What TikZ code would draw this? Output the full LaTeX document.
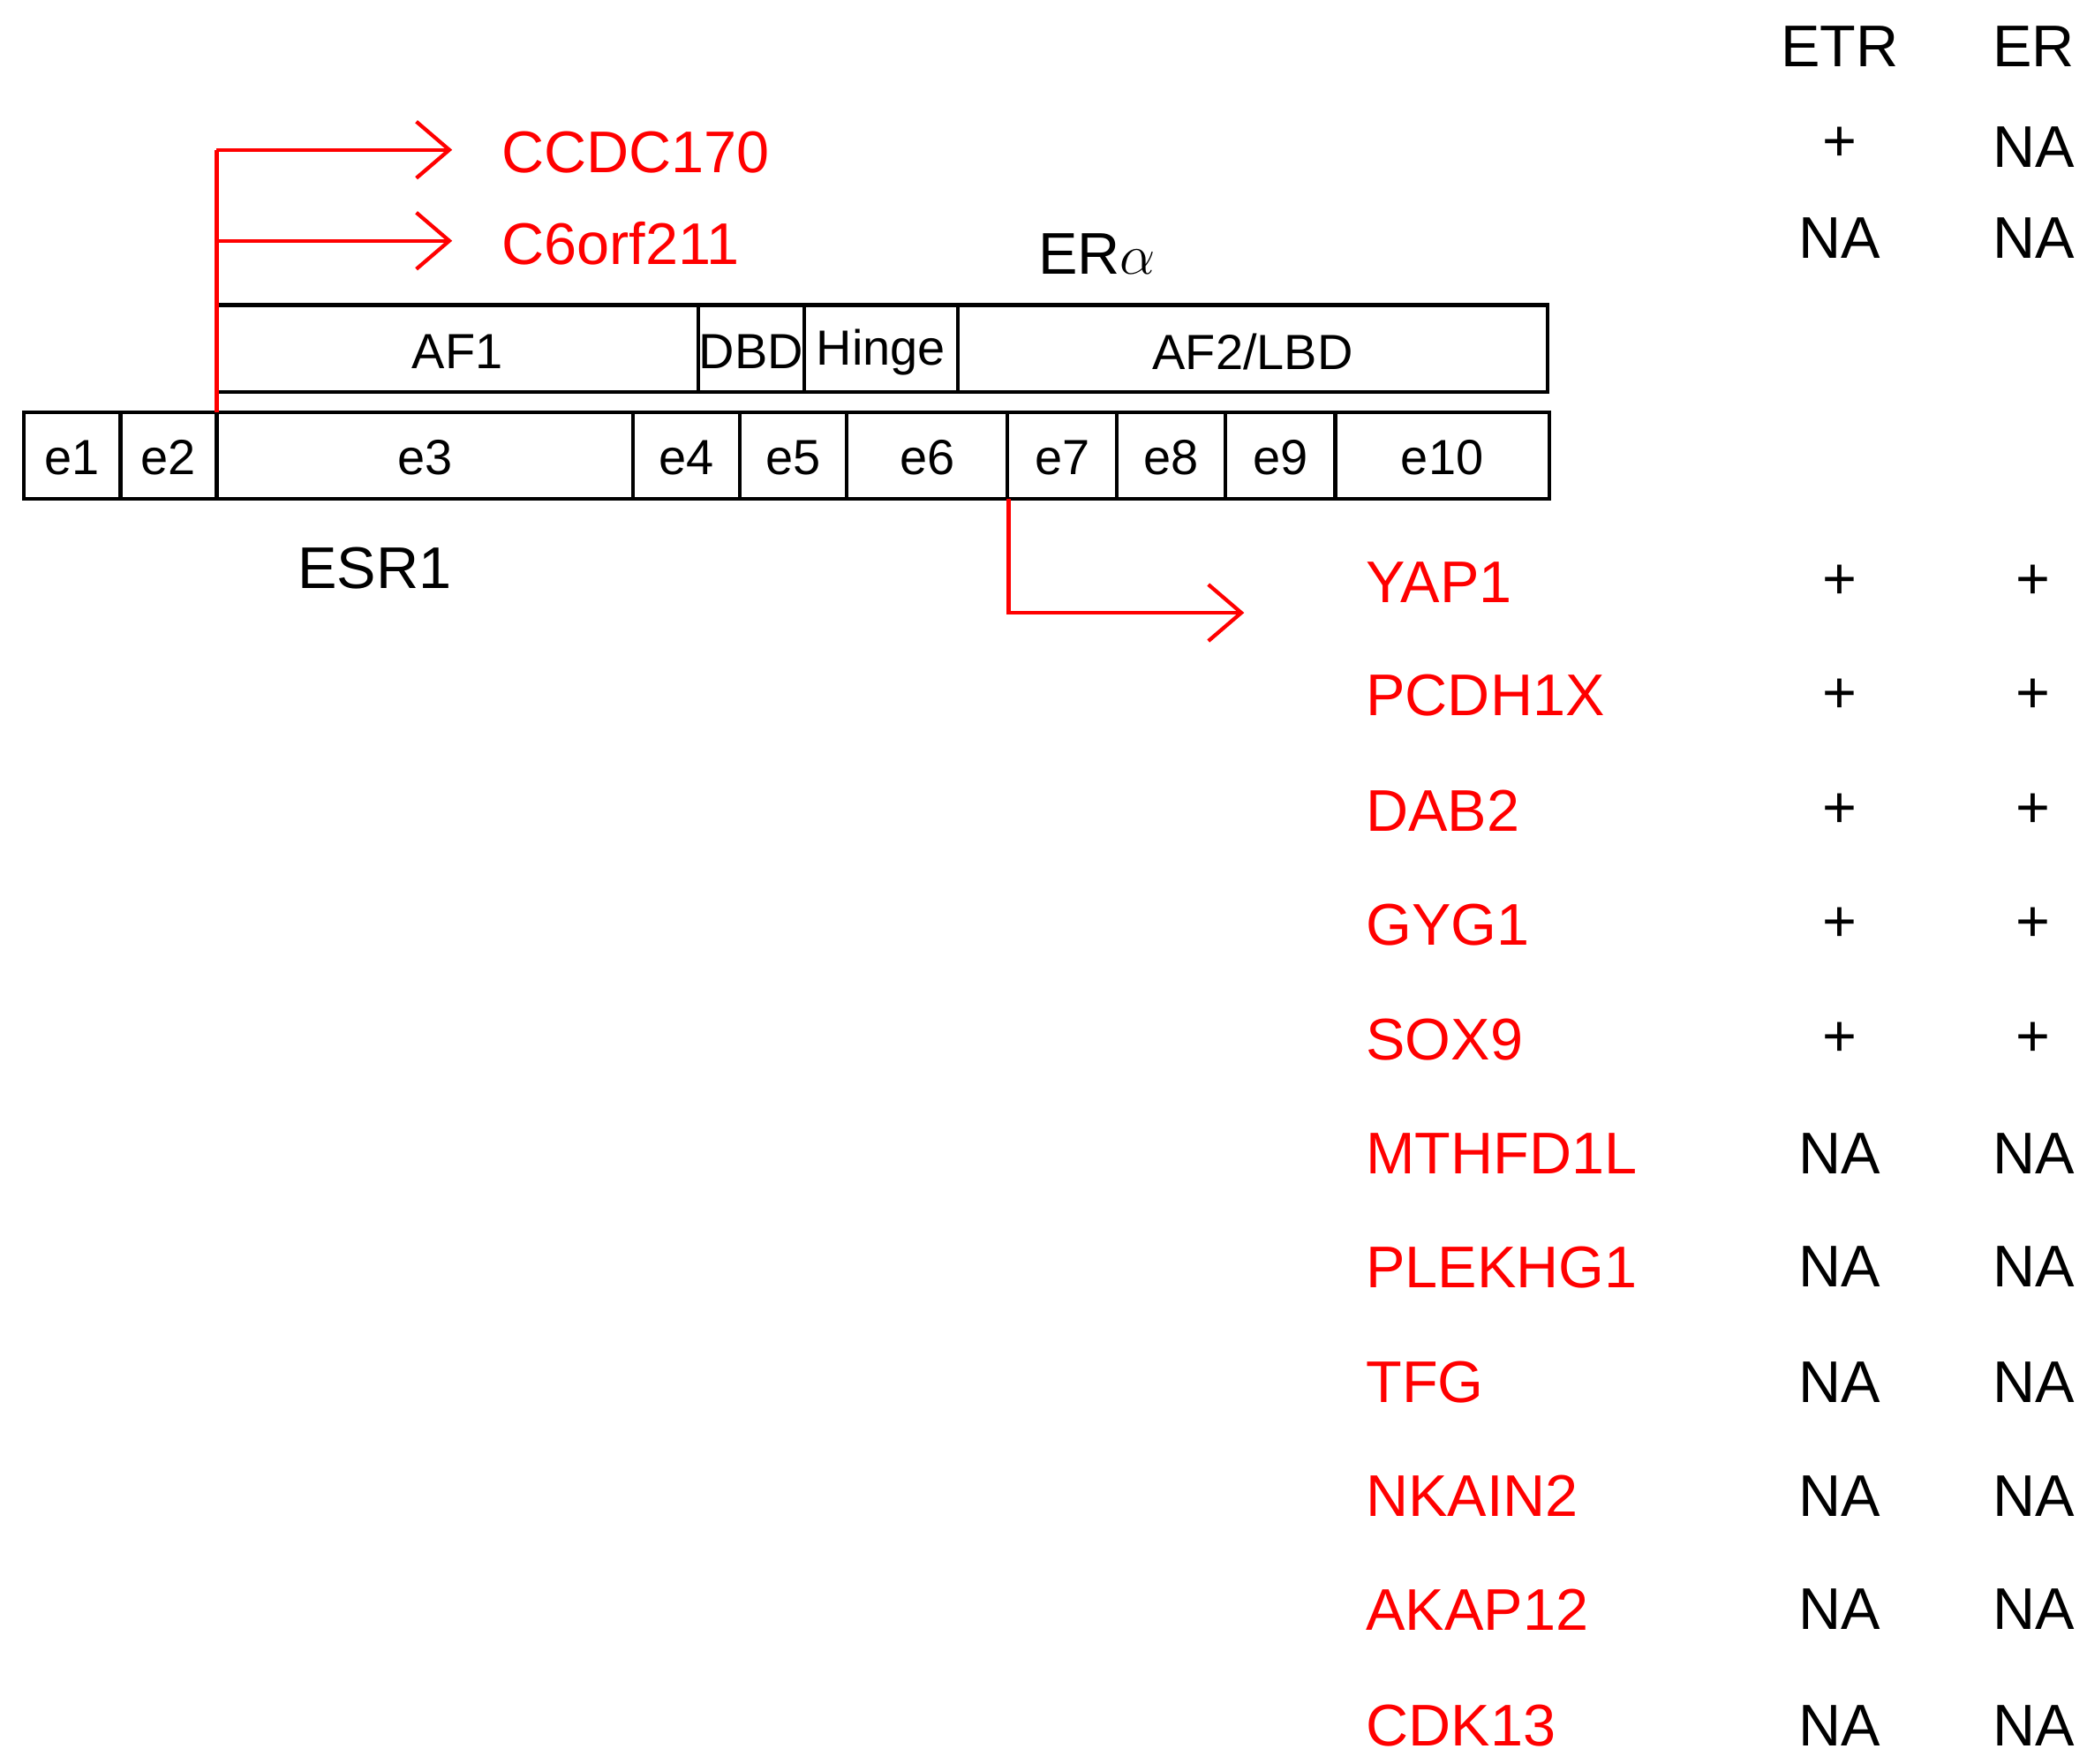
\documentclass[tikz,border=0pt]{standalone}
\usepackage{fontspec}
\setmainfont{Liberation Sans}
\usetikzlibrary{arrows.meta}
\definecolor{fusion}{RGB}{255,0,0}

\begin{document}
\begin{tikzpicture}[x=0.01cm, y=-0.01cm, thick,
    big/.style={font=\fontsize{12.5}{15}\selectfont},
    small/.style={font=\fontsize{10.5}{12}\selectfont},
    gene/.style={big, color=fusion, anchor=west},
    link/.style={color=fusion, -{Straight Barb[length=7pt,width=12pt]}}]

    \useasboundingbox (0, 0) rectangle (1560, 1318);

    % exons of ESR1
    \foreach \a/\b/\t in {18/90/e1, 90/162/e2, 162/473/e3, 473/553/e4, 553/633/e5,
            633/753/e6, 753/835/e7, 835/916/e8, 916/998/e9, 998/1158/e10} {
            \draw (\a, 308) rectangle (\b, 373);
            \node[small] (\t) at ({(\a+\b)/2}, 342) {\t};
        }

    % domains of ERa
    \foreach \a/\b/\t/\n in {162/522/AF1/af1, 522/601/DBD/dbd, 601/716/Hinge/hinge,
            716/1157/AF2\slash LBD/lbd} {
            \draw (\a, 228) rectangle (\b, 293);
            \node[small] (\n) at ({(\a+\b)/2}, 263) {\t};
        }

    \node[big] (era) at (820, 190) {ER$\alpha$};
    \node[big] (esr1) at (280, 425) {ESR1};

    % 5' partners
    \coordinate (brk1) at (162, 308);
    \coordinate (top1) at (162, 112);
    \coordinate (top2) at (162, 180);
    \coordinate (tip1) at (338, 112);
    \coordinate (tip2) at (338, 180);
    \draw[color=fusion] (brk1) -- (top1);
    \draw[link] (top1) -- (tip1);
    \draw[link] (top2) -- (tip2);
    \node[gene] (ccdc170) at (362, 114) {CCDC170};
    \node[gene] (c6orf211) at (362, 182) {C6orf211};

    % 3' partners
    \coordinate (brk2) at (754, 373);
    \coordinate (tip3) at (930, 458);
    \draw[link] (brk2) |- (tip3);

    \node[big] (etr) at (1375, 35) {ETR};
    \node[big] (er) at (1520, 35) {ER};
    \node[big] at (1375, 108) {+};
    \node[big] at (1520, 110) {NA};
    \node[big] at (1375, 178) {NA};
    \node[big] at (1520, 178) {NA};

    \foreach \g/\y/\p/\q in {YAP1/435/+/+, PCDH1X/520/+/+, DAB2/606/+/+,
            GYG1/691/+/+, SOX9/777/+/+, MTHFD1L/862/NA/NA, PLEKHG1/947/NA/NA,
            TFG/1033/NA/NA, NKAIN2/1118/NA/NA, AKAP12/1203/NA/NA, CDK13/1290/NA/NA} {
            \node[gene] (\g) at (1008, \y) {\g};
            \node[big] at (1375, \y) {\p};
            \node[big] at (1520, \y) {\q};
        }

\end{tikzpicture}
\end{document}
